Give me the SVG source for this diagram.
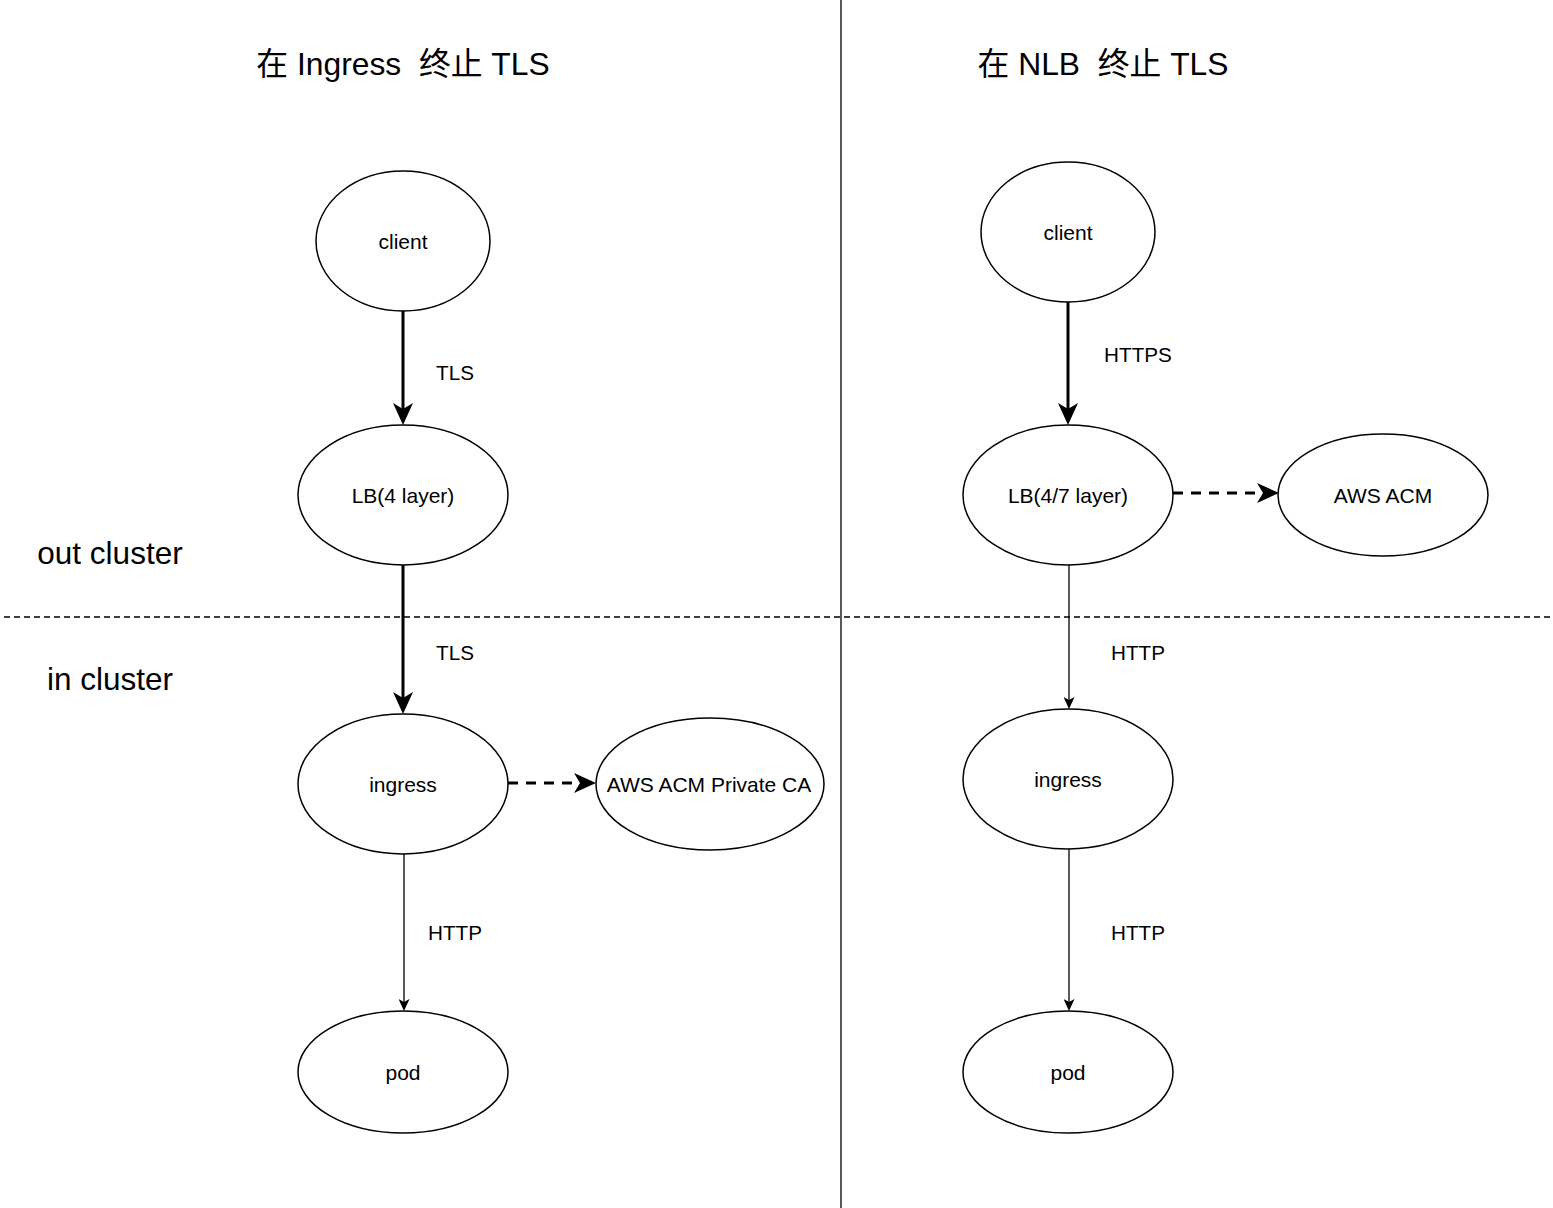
<svg xmlns="http://www.w3.org/2000/svg" width="1553" height="1208" viewBox="0 0 1553 1208">
<style>
text{font-family:"Liberation Sans","Noto Sans CJK SC",Arial,sans-serif;fill:#000;text-anchor:middle;dominant-baseline:central;white-space:pre}
.title{font-size:31.8px}
.zone{font-size:31.5px}
.nl{font-size:21px}
.el{font-size:20.7px}
ellipse{fill:#fff;stroke:#000;stroke-width:1.5}
.thick{stroke:#000;stroke-width:3;fill:none}
.thin{stroke:#000;stroke-width:1.3;fill:none}
.dash{stroke:#000;stroke-width:3;fill:none;stroke-dasharray:10 8}
.sep{stroke:#000;stroke-width:1.3;fill:none}
</style>
<defs>
<marker id="ah" markerUnits="userSpaceOnUse" markerWidth="22" markerHeight="20" viewBox="0 0 22 20" refX="6" refY="10" orient="auto"><path d="M0,0 L22,10 L0,20 L6,10 Z" fill="#000"/></marker>
<marker id="at" markerUnits="userSpaceOnUse" markerWidth="12" markerHeight="11" viewBox="0 0 12 11" refX="3" refY="5.5" orient="auto"><path d="M0,0 L12,5.5 L0,11 L3,5.5 Z" fill="#000"/></marker>
</defs>
<rect width="1553" height="1208" fill="#fff"/>
<g id="dividers">
<line class="sep" x1="841" y1="0" x2="841" y2="1208"/>
<line class="sep" x1="4" y1="617" x2="1553" y2="617" stroke-dasharray="6 4"/>
</g>
<g id="titles">
<text class="title" x="403" y="64">在 Ingress  终止 TLS</text>
<text class="title" x="1103" y="64">在 NLB  终止 TLS</text>
<text class="zone" x="110" y="553">out cluster</text>
<text class="zone" x="110" y="679">in cluster</text>
</g>
<g id="connectors">
<line class="thick" x1="403" y1="311" x2="403" y2="409" marker-end="url(#ah)"/>
<line class="thick" x1="403" y1="565" x2="403" y2="698" marker-end="url(#ah)"/>
<line class="thin" x1="404" y1="854" x2="404" y2="1002" marker-end="url(#at)"/>
<line class="dash" x1="508" y1="783" x2="580" y2="783" marker-end="url(#ah)"/>
<line class="thick" x1="1068" y1="302" x2="1068" y2="409" marker-end="url(#ah)"/>
<line class="dash" x1="1173" y1="493" x2="1263" y2="493" marker-end="url(#ah)"/>
<line class="thin" x1="1069" y1="565" x2="1069" y2="700" marker-end="url(#at)"/>
<line class="thin" x1="1069" y1="849" x2="1069" y2="1002" marker-end="url(#at)"/>
<text class="el" x="455" y="372">TLS</text>
<text class="el" x="455" y="652">TLS</text>
<text class="el" x="455" y="932">HTTP</text>
<text class="el" x="1138" y="354">HTTPS</text>
<text class="el" x="1138" y="652">HTTP</text>
<text class="el" x="1138" y="932">HTTP</text>
</g>
<g id="left-client"><ellipse cx="403" cy="241" rx="87" ry="70"/><text class="nl" x="403" y="241">client</text></g>
<g id="left-lb"><ellipse cx="403" cy="495" rx="105" ry="70"/><text class="nl" x="403" y="495">LB(4 layer)</text></g>
<g id="left-ingress"><ellipse cx="403" cy="784" rx="105" ry="70"/><text class="nl" x="403" y="784">ingress</text></g>
<g id="left-acm"><ellipse cx="710" cy="784" rx="114" ry="66"/><text class="nl" x="709" y="784">AWS ACM Private CA</text></g>
<g id="left-pod"><ellipse cx="403" cy="1072" rx="105" ry="61"/><text class="nl" x="403" y="1072">pod</text></g>
<g id="right-client"><ellipse cx="1068" cy="232" rx="87" ry="70"/><text class="nl" x="1068" y="232">client</text></g>
<g id="right-lb"><ellipse cx="1068" cy="495" rx="105" ry="70"/><text class="nl" x="1068" y="495">LB(4/7 layer)</text></g>
<g id="right-acm"><ellipse cx="1383" cy="495" rx="105" ry="61"/><text class="nl" x="1383" y="495">AWS ACM</text></g>
<g id="right-ingress"><ellipse cx="1068" cy="779" rx="105" ry="70"/><text class="nl" x="1068" y="779">ingress</text></g>
<g id="right-pod"><ellipse cx="1068" cy="1072" rx="105" ry="61"/><text class="nl" x="1068" y="1072">pod</text></g>
</svg>
